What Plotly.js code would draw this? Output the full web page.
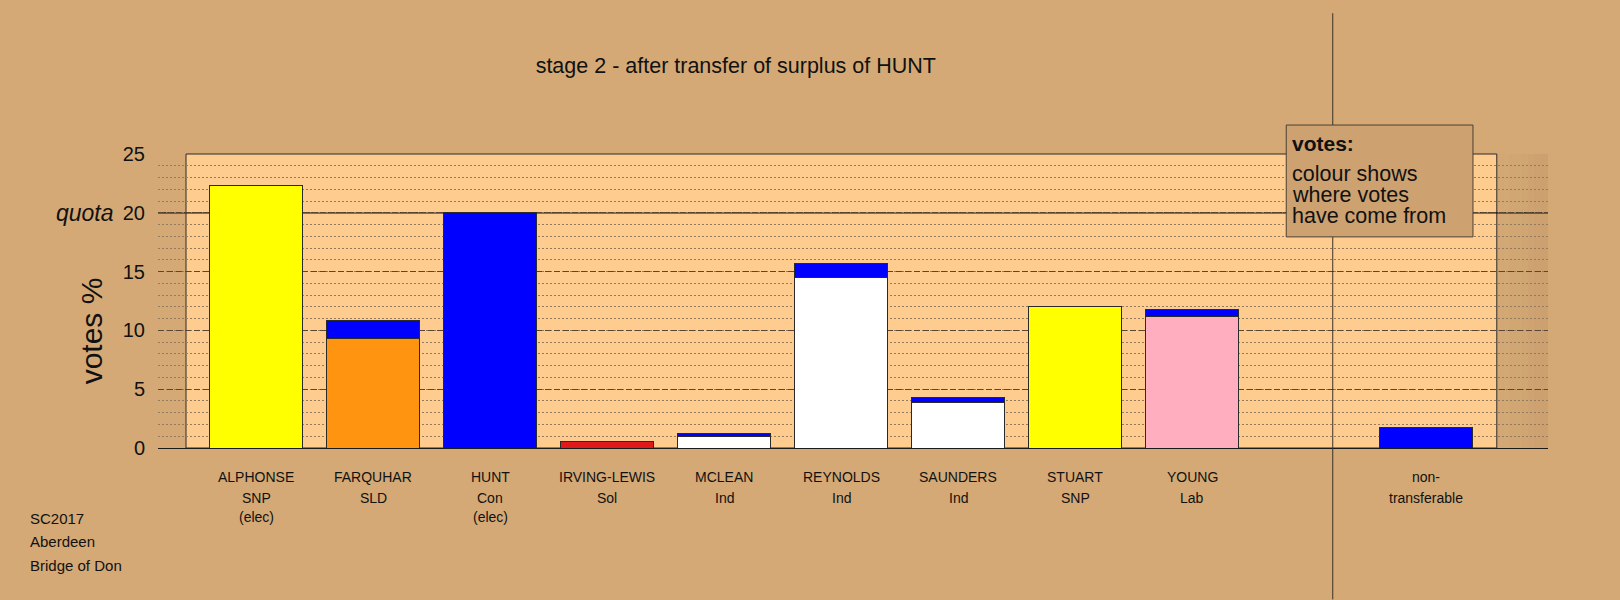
<!DOCTYPE html>
<html>
<head>
<meta charset="utf-8">
<script src="https://cdn.plot.ly/plotly-3.0.1.min.js"></script>
<style>
  html, body { margin: 0; padding: 0; background: #D4A976; }
  #chart { width: 1620px; height: 600px; }
</style>
</head>
<body>
<div id="chart"></div>
<script>
// ---- data ----
const candidates = ['ALPHONSE', 'FARQUHAR', 'HUNT', 'IRVING-LEWIS', 'MCLEAN', 'REYNOLDS', 'SAUNDERS', 'STUART', 'YOUNG', 'non-transferable'];
const parties    = ['SNP', 'SLD', 'Con', 'Sol', 'Ind', 'Ind', 'Ind', 'SNP', 'Lab', 'transferable'];
const nameLines  = ['ALPHONSE', 'FARQUHAR', 'HUNT', 'IRVING-LEWIS', 'MCLEAN', 'REYNOLDS', 'SAUNDERS', 'STUART', 'YOUNG', 'non-'];
const statusLine = ['(elec)', '', '(elec)', '', '', '', '', '', '', ''];
const categoryOrder = ['ALPHONSE', 'FARQUHAR', 'HUNT', 'IRVING-LEWIS', 'MCLEAN', 'REYNOLDS', 'SAUNDERS', 'STUART', 'YOUNG', ' ', 'non-transferable'];
// votes % held before this stage (own colour) and votes received from HUNT's surplus (blue)
const ownVotes   = [22.28, 9.29, 20.0, 0.52, 0.99, 14.47, 3.91, 12.03, 11.18, 0];
const fromHunt   = [0, 1.59, 0, 0, 0.26, 1.24, 0.40, 0, 0.62, 1.76];
const ownColours = ['#FFFF00', '#FF9410', '#0000FF', '#E01A1A', '#FFFFFF', '#FFFFFF', '#FFFFFF', '#FFFF00', '#FFAEC0', '#FFFFFF'];
const transferColour = '#0000FF';
const quota = 20;
const yTicks = [0, 5, 10, 15, 20, 25];
const titleText = 'stage 2 - after transfer of surplus of HUNT';
const placeLines = ['SC2017', 'Aberdeen', 'Bridge of Don'];
const legendLines = ['colour shows', 'where votes', 'have come from'];

// ---- geometry helpers (layout only) ----
const W = 1620, H = 600;
const L = 158, R = 1547.7, T = 154, B = 448.4;
const px2x = p => (p - L) / (R - L);
const px2y = p => (B - p) / (B - T);

const FONT = 'Liberation Sans, Arial, Helvetica, sans-serif';
const outline = {color: '#2a2a2a', width: 1};

const traces = [
  {
    type: 'bar', x: candidates, y: ownVotes, width: 0.795,
    marker: {color: ownColours, line: outline},
    hoverinfo: 'x+y', showlegend: false
  },
  {
    type: 'bar', x: candidates, y: fromHunt, width: 0.795,
    marker: {color: transferColour, line: outline},
    hoverinfo: 'x+y', showlegend: false
  }
];

const shapes = [];
// light inner panel
const panelX0 = px2x(186), panelX1 = px2x(1496.5);
shapes.push({type: 'rect', layer: 'below', xref: 'paper', yref: 'paper', x0: panelX0, x1: panelX1, y0: 0, y1: 1,
  fillcolor: '#FFCC90', line: {color: '#2a2a2a', width: 1}});
// shading strip at right edge
const nStrip = 8;
for (let i = 0; i < nStrip; i++) {
  const a = px2x(1496.5 + i * (R - 1496.5) / nStrip);
  const b = px2x(1496.5 + (i + 1) * (R - 1496.5) / nStrip);
  shapes.push({type: 'rect', layer: 'below', xref: 'paper', yref: 'paper', x0: a, x1: b, y0: 0, y1: 1,
    fillcolor: 'rgba(90,55,20,' + (0.005 + i * 0.008).toFixed(3) + ')', line: {width: 0}});
}
// quota line (above gridlines, below bars)
shapes.push({type: 'line', layer: 'between', xref: 'paper', yref: 'y', x0: 0, x1: 1, y0: quota, y1: quota,
  line: {color: '#111111', width: 1.3}});
// separator line before non-transferable
shapes.push({type: 'line', layer: 'above', xref: 'paper', yref: 'paper',
  x0: px2x(1332.5), x1: px2x(1332.5), y0: px2y(13), y1: px2y(600),
  line: {color: '#3a3228', width: 1}});
// legend box
shapes.push({type: 'rect', layer: 'above', xref: 'paper', yref: 'paper',
  x0: px2x(1286), x1: px2x(1472.7), y0: px2y(237), y1: px2y(125),
  fillcolor: '#CDA170', line: {color: '#4a4036', width: 1}});

const annotations = [];
const rowY = [477, 498, 517.6];
const rows = [nameLines, parties, statusLine];
rows.forEach((row, r) => {
  row.forEach((txt, i) => {
    if (!txt) return;
    annotations.push({xref: 'x', yref: 'paper', x: candidates[i], y: px2y(rowY[r]),
      text: txt, showarrow: false, xanchor: 'center', yanchor: 'middle',
      font: {family: FONT, size: 14, color: '#111111'}});
  });
});
placeLines.forEach((txt, i) => {
  annotations.push({xref: 'paper', yref: 'paper', x: px2x(28), y: px2y(519 + i * 23.5),
    text: txt, showarrow: false, xanchor: 'left', yanchor: 'middle',
    font: {family: FONT, size: 15, color: '#111111'}});
});
annotations.push({xref: 'paper', yref: 'y', x: px2x(116), y: quota, text: '<i>quota</i>',
  showarrow: false, xanchor: 'right', yanchor: 'middle',
  font: {family: FONT, size: 23, color: '#111111'}});
annotations.push({xref: 'paper', yref: 'paper', x: px2x(91), y: px2y(330.6), text: 'votes %',
  textangle: -90, showarrow: false, xanchor: 'center', yanchor: 'middle',
  font: {family: FONT, size: 30, color: '#111111'}});
annotations.push({xref: 'paper', yref: 'paper', x: px2x(1290), y: px2y(143.6), text: '<b>votes:</b>',
  showarrow: false, xanchor: 'left', yanchor: 'middle',
  font: {family: FONT, size: 21, color: '#111111'}});
legendLines.forEach((txt, i) => {
  annotations.push({xref: 'paper', yref: 'paper', x: px2x(1290), y: px2y(174 + i * 21.2), text: txt,
    showarrow: false, xanchor: 'left', yanchor: 'middle',
    font: {family: FONT, size: 21.5, color: '#111111'}});
});

const layout = {
  width: W, height: H,
  paper_bgcolor: '#D4A976', plot_bgcolor: 'rgba(0,0,0,0)',
  margin: {l: L, r: W - R, t: T, b: H - B, pad: 0},
  barmode: 'stack',
  showlegend: false,
  font: {family: FONT, color: '#111111'},
  title: {text: titleText, x: 735.8 / W, xref: 'container', xanchor: 'center',
    y: 1 - 65 / H, yref: 'container', yanchor: 'middle',
    font: {family: FONT, size: 21.5, color: '#111111'}},
  xaxis: {type: 'category', categoryorder: 'array', categoryarray: categoryOrder,
    range: [-0.839, 11.039], showticklabels: false, ticks: '', showgrid: false, zeroline: false,
    showline: true, linecolor: '#1a1a1a', linewidth: 1.3, fixedrange: true},
  yaxis: {range: [0, 25], tickvals: yTicks, ticks: '', ticklabelstandoff: 12,
    tickfont: {family: FONT, size: 20, color: '#111111'},
    showgrid: true, gridcolor: '#5a4632', gridwidth: 1, griddash: '6px,3px',
    minor: {dtick: 1, showgrid: true, gridcolor: '#957b5e', gridwidth: 1, griddash: '2px,2px'},
    zeroline: false, showline: false, fixedrange: true},
  shapes: shapes,
  annotations: annotations
};

Plotly.newPlot('chart', traces, layout, {displayModeBar: false, staticPlot: true});
</script>
</body>
</html>
